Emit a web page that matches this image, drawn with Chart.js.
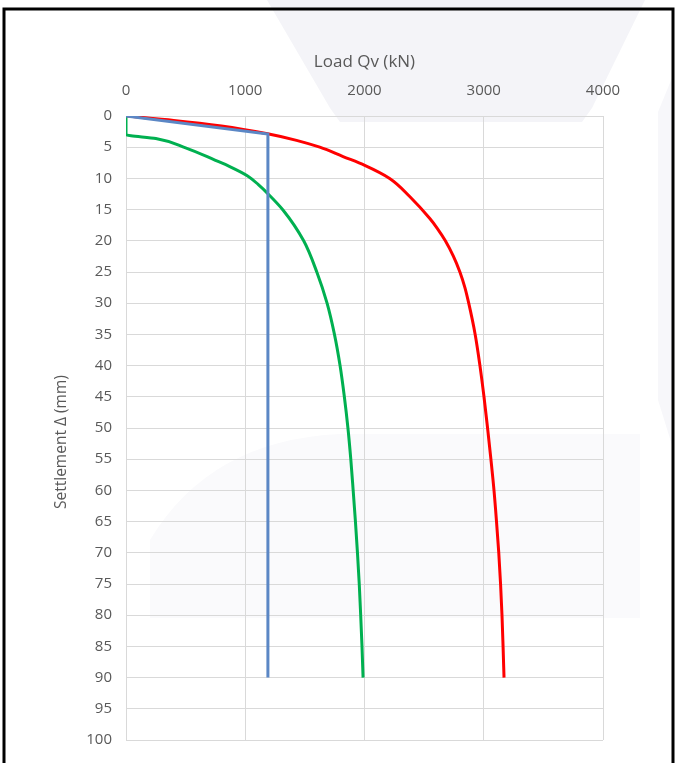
<!DOCTYPE html>
<html>
<head>
<meta charset="utf-8">
<script src="https://cdn.jsdelivr.net/npm/chart.js@4.4.0/dist/chart.umd.min.js"></script>
<style>
  html, body { margin: 0; padding: 0; background: #fff; }
  #wrap { width: 675px; height: 763px; position: relative; }
</style>
</head>
<body>
<div id="wrap"><canvas id="myChart"></canvas></div>
<script>
// load in kN, settlement in mm
const blueLoad = [0, 1190, 1190];
const blueSettle = [0, 2.9, 90];

const greenLoad = [0, 0, 250, 500, 750, 870, 1020, 1110, 1187, 1318, 1490, 1600, 1686, 1748, 1795, 1831, 1861, 1885, 1905, 1924, 1941, 1956, 1968, 1979, 1988];
const greenSettle = [0, 3, 3.6, 5.1, 7.1, 8.1, 9.6, 11, 12.4, 15.1, 20, 25, 30, 35, 40, 45, 50, 55, 60, 65, 70, 75, 80, 85, 90];

const redLoad = [0, 400, 800, 1187, 1430, 1625, 1820, 2002, 2211, 2379, 2546, 2610, 2678, 2746, 2800, 2842, 2874, 2928, 2968, 3002, 3032, 3060, 3086, 3107, 3126, 3141, 3153, 3162, 3170];
const redSettle = [0, 0.7, 1.6, 2.85, 3.9, 5.0, 6.5, 7.9, 10, 12.9, 16.4, 18, 20, 22.5, 25, 27.5, 30, 35, 40, 45, 50, 55, 60, 65, 70, 75, 80, 85, 90];

const xTicks = [0, 1000, 2000, 3000, 4000];

function pts(xs, ys) {
    return xs.map((x, i) => ({ x: x, y: ys[i] }));
}

const gray = '#595959';
const gridColor = '#d9d9d9';

// faint background shapes + black frame like the screenshot
const decor = {
    id: 'decor',
    beforeDraw(chart) {
        const c = chart.ctx;
        c.save();
        c.fillStyle = '#f4f4f8';
        c.beginPath();
        c.moveTo(267, 0);
        c.lineTo(645, 0);
        c.lineTo(592, 108);
        c.lineTo(582, 122);
        c.lineTo(340, 122);
        c.lineTo(330, 108);
        c.closePath();
        c.fill();

        c.fillStyle = '#f7f7fa';
        c.beginPath();
        c.moveTo(672, 78);
        c.lineTo(658, 112);
        c.lineTo(658, 400);
        c.lineTo(672, 445);
        c.closePath();
        c.fill();

        c.fillStyle = '#fafafc';
        c.beginPath();
        c.moveTo(150, 540);
        c.quadraticCurveTo(210, 440, 340, 434);
        c.lineTo(640, 434);
        c.lineTo(640, 618);
        c.lineTo(150, 618);
        c.closePath();
        c.fill();
        c.restore();
    },
    afterDraw(chart) {
        const c = chart.ctx;
        c.save();
        c.strokeStyle = '#000';
        c.lineWidth = 3;
        c.beginPath();
        c.moveTo(4, 770);
        c.lineTo(4, 9);
        c.lineTo(673, 9);
        c.lineTo(673, 770);
        c.stroke();
        c.restore();
    }
};

const data = {
    datasets: [{
        label: 'Blue',
        data: pts(blueLoad, blueSettle),
        borderColor: '#5b87c5',
        borderWidth: 3,
        tension: 0
    },
    {
        label: 'Green',
        data: pts(greenLoad, greenSettle),
        borderColor: '#00b050',
        borderWidth: 3,
        cubicInterpolationMode: 'monotone'
    },
    {
        label: 'Red',
        data: pts(redLoad, redSettle),
        borderColor: '#ff0000',
        borderWidth: 3,
        cubicInterpolationMode: 'monotone'
    }]
};

const config = {
    type: 'line',
    data,
    options: {
        indexAxis: 'y', // settlement grows along every curve
        responsive: true,
        maintainAspectRatio: false,
        animation: false,
        elements: { point: { radius: 0, hoverRadius: 0 } },
        layout: { padding: { left: 0, top: 0, right: 72, bottom: 21 } },
        plugins: {
            legend: { display: false },
            tooltip: { enabled: false }
        },
        scales: {
            x: {
                type: 'linear',
                position: 'top',
                min: 0,
                max: 4000,
                afterBuildTicks: (s) => { s.ticks = xTicks.map(v => ({ value: v })); },
                afterFit: (s) => { s.height = 116; },
                grid: { color: gridColor, lineWidth: 1, drawTicks: false },
                border: { display: false },
                ticks: {
                    color: gray,
                    font: { family: 'Open Sans', size: 15 },
                    padding: 16,
                    callback: (v) => String(v)
                },
                title: {
                    display: true,
                    text: 'Load Qv (kN)',
                    color: gray,
                    font: { family: 'Open Sans', size: 17 },
                    padding: { top: 52, bottom: 0 }
                }
            },
            y: {
                type: 'linear',
                position: 'left',
                reverse: true,
                min: 0,
                max: 100,
                afterFit: (s) => { s.width = 126; },
                grid: { color: gridColor, lineWidth: 1, drawTicks: false },
                border: { display: false },
                ticks: {
                    stepSize: 5,
                    color: gray,
                    font: { family: 'Open Sans', size: 15 },
                    padding: 14,
                    callback: (v) => String(v)
                },
                title: {
                    display: true,
                    // trailing spaces push the visible text a bit lower, as in the picture
                    text: 'Settlement Δ (mm)\u00a0\u00a0\u00a0\u00a0\u00a0\u00a0\u00a0',
                    color: gray,
                    font: { family: 'Open Sans', size: 15.5 },
                    padding: { top: 52, bottom: 0 }
                }
            }
        }
    },
    plugins: [decor]
};

const myChart = new Chart(
    document.getElementById('myChart'),
    config
);
</script>
</body>
</html>
